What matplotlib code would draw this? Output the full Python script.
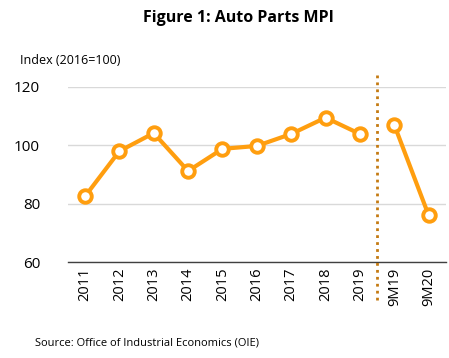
import numpy as np
import matplotlib.pyplot as plt
import matplotlib.transforms as mtransforms

plt.rcParams['font.family'] = ['Open Sans', 'DejaVu Sans']

categories = ["2011", "2012", "2013", "2014", "2015", "2016", "2017", "2018", "2019", "9M19", "9M20"]
annual = [82.5, 98.0, 104.2, 91.2, 98.8, 99.8, 103.9, 109.5, 103.9]
nine_months = [107.0, 76.0]

orange = "#FF9E0F"
brown = "#C47A12"

fig = plt.figure(figsize=(4.49, 3.58), dpi=100)
ax = fig.add_axes([0.151, 0.268, 0.842, 0.489])

x = np.arange(len(categories))
n = len(annual)
style = dict(color=orange, lw=3, marker="o", ms=9, mfc="white", mec=orange, mew=2.8, zorder=3)
ax.plot(x[:n], annual, **style)
ax.plot(x[n:], nine_months, **style)

ax.set_xlim(-0.5, len(categories) - 0.5)
ax.set_ylim(60, 120)
ax.set_yticks([60, 80, 100, 120])
ax.set_xticks(x)
ax.set_xticklabels(categories, rotation=90, fontsize=10.5)
ax.tick_params(axis="y", labelsize=11, length=0, pad=20)
ax.tick_params(axis="x", length=0, pad=4)

ax.grid(axis="y", color="#D9D9D9", lw=1)
ax.set_axisbelow(True)
for side in ["top", "right", "left"]:
    ax.spines[side].set_visible(False)
ax.spines["bottom"].set_color("#404040")
ax.spines["bottom"].set_linewidth(1)

# dotted separator between annual and 9-month figures
trans = mtransforms.blended_transform_factory(ax.transData, ax.transAxes)
ax.plot([n - 0.5, n - 0.5], [-0.217, 1.069], transform=trans, clip_on=False,
        color=brown, lw=2, linestyle=(0, (1, 1.5)), zorder=4)

fig.text(0.53, 0.95, "Figure 1: Auto Parts MPI", ha="center", va="center",
         fontsize=11.5, fontweight="bold")
fig.text(0.045, 0.832, "Index (2016=100)", ha="left", va="center", fontsize=9)
fig.text(0.078, 0.042, "Source: Office of Industrial Economics (OIE)", ha="left",
         va="center", fontsize=8)

fig.savefig("out.png", dpi=100, facecolor="white")
